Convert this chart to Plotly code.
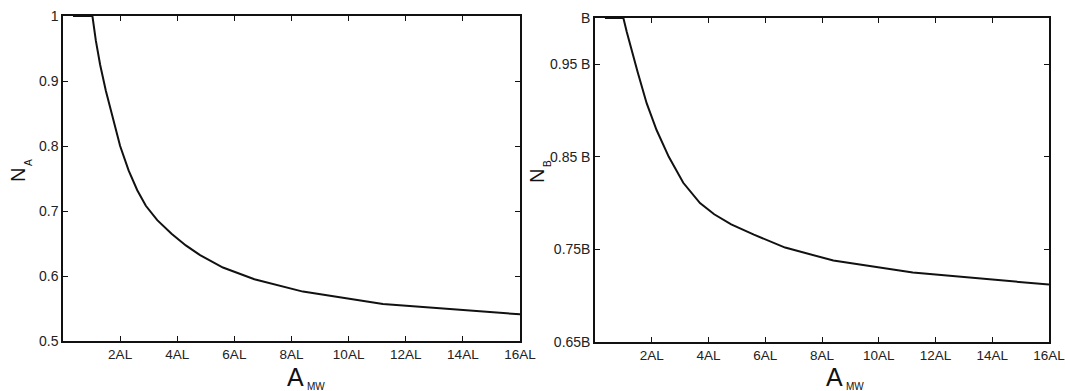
import plotly.graph_objects as go

# Left panel: N_A vs A_MW
xa = [0.35, 1.03, 1.15, 1.30, 1.50, 1.75, 2.00, 2.30, 2.60, 2.90, 3.30, 3.80, 4.30, 4.80, 5.60, 6.70, 8.40, 11.20, 16.00]
ya = [1.000, 1.000, 0.962, 0.925, 0.885, 0.841, 0.800, 0.762, 0.732, 0.708, 0.686, 0.665, 0.647, 0.632, 0.613, 0.595, 0.576, 0.557, 0.541]

# Right panel: N_B vs A_MW
xb = [0.35, 1.00, 1.12, 1.29, 1.50, 1.82, 2.17, 2.60, 3.11, 3.70, 4.20, 4.80, 5.60, 6.70, 8.40, 11.20, 16.00]
yb = [1.000, 1.000, 0.985, 0.965, 0.942, 0.908, 0.879, 0.850, 0.822, 0.800, 0.788, 0.777, 0.766, 0.752, 0.738, 0.725, 0.712]

x_tickvals = [2, 4, 6, 8, 10, 12, 14, 16]
x_ticktext = ["2AL", "4AL", "6AL", "8AL", "10AL", "12AL", "14AL", "16AL"]
ya_tickvals = [0.5, 0.6, 0.7, 0.8, 0.9, 1.0]
ya_ticktext = ["0.5", "0.6", "0.7", "0.8", "0.9", "1"]
yb_tickvals = [0.65, 0.75, 0.85, 0.95, 1.0]
yb_ticktext = ["0.65B", "0.75B", "0.85 B", "0.95 B", "B"]

W, H = 1065, 391
FONT = "Liberation Sans, Arial, Helvetica, sans-serif"

fig = go.Figure()
fig.add_trace(go.Scatter(x=xa, y=ya, mode="lines", line=dict(color="#111", width=2),
                         xaxis="x", yaxis="y", showlegend=False, hoverinfo="skip"))
fig.add_trace(go.Scatter(x=xb, y=yb, mode="lines", line=dict(color="#111", width=2),
                         xaxis="x2", yaxis="y2", showlegend=False, hoverinfo="skip"))

common = dict(showline=True, linecolor="#111", linewidth=1.5, mirror="ticks",
              ticks="inside", ticklen=5, tickwidth=1, tickcolor="#111",
              showgrid=False, zeroline=False, automargin=False,
              ticklabeloverflow="allow")
xfont = dict(family=FONT, size=13.5, color="#222")
yfont = dict(family=FONT, size=14, color="#222")

fig.update_layout(
    width=W, height=H,
    margin=dict(l=0, r=0, t=0, b=0, autoexpand=False),
    paper_bgcolor="white", plot_bgcolor="white",
    xaxis=dict(domain=[63 / W, 520 / W], range=[0, 16], tickvals=x_tickvals,
               ticktext=x_ticktext, anchor="y", tickfont=xfont, **common),
    yaxis=dict(domain=[1 - 341 / H, 1 - 16 / H], range=[0.5, 1.0], tickvals=ya_tickvals,
               ticktext=ya_ticktext, anchor="x", tickfont=yfont, **common),
    xaxis2=dict(domain=[595 / W, 1049 / W], range=[0, 16], tickvals=x_tickvals,
                ticktext=x_ticktext, anchor="y2", tickfont=xfont, **common),
    yaxis2=dict(domain=[1 - 342 / H, 1 - 18 / H], range=[0.65, 1.0], tickvals=yb_tickvals,
                ticktext=yb_ticktext, anchor="x2", tickfont=yfont, **common),
)

def ann(text, px, py, size, angle=0):
    fig.add_annotation(text=text, x=px / W, y=1 - py / H, xref="paper", yref="paper",
                       showarrow=False, textangle=angle, xanchor="center", yanchor="middle",
                       font=dict(family="Liberation Sans, Arial, sans-serif", size=size, color="#111"))

# x-axis titles
ann("A", 295, 377, 25)
ann("MW", 316, 386, 10)
ann("A", 834, 377, 25)
ann("MW", 855, 386, 10)
# y-axis titles
ann("N", 18, 175, 20, -90)
ann("A", 29, 163, 10, -90)
ann("N", 537, 176, 20, -90)
ann("B", 547, 164, 10, -90)

fig.write_html("out.html")
